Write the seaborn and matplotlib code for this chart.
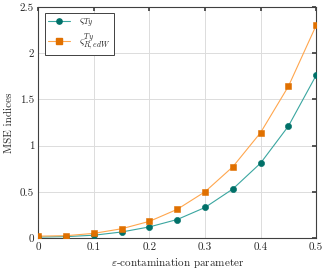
import matplotlib
matplotlib.use("Agg")
import matplotlib.pyplot as plt
import seaborn as sns
import pandas as pd

eps = [0.0, 0.05, 0.1, 0.15, 0.2, 0.25, 0.3, 0.35, 0.4, 0.45, 0.5]
mse_ty = [0.01, 0.015, 0.03, 0.065, 0.12, 0.2, 0.33, 0.53, 0.81, 1.21, 1.76]
mse_redw = [0.02, 0.025, 0.05, 0.1, 0.18, 0.31, 0.5, 0.77, 1.14, 1.64, 2.3]
labels = [r'$\varsigma_{Ty}$', r'$\varsigma^{Ty}_{R,edW}$']
xticks = [0, 0.1, 0.2, 0.3, 0.4, 0.5]
xticklabels = ["0", "0.1", "0.2", "0.3", "0.4", "0.5"]
yticks = [0, 0.5, 1, 1.5, 2, 2.5]
yticklabels = ["0", "0.5", "1", "1.5", "2", "2.5"]

sns.set_theme(style="whitegrid")
plt.rcParams['font.family'] = ['serif']
plt.rcParams['font.serif'] = ['cmr10', 'DejaVu Serif']
plt.rcParams['mathtext.fontset'] = 'cm'
plt.rcParams['axes.formatter.use_mathtext'] = True

df = pd.DataFrame({
    'eps': eps * 2,
    'mse': mse_ty + mse_redw,
    'series': [labels[0]] * len(eps) + [labels[1]] * len(eps),
})

fig = plt.figure(figsize=(3.27, 2.72), dpi=100)
ax = fig.add_axes([0.117, 0.125, 0.85, 0.85])

line_cols = {labels[0]: '#3aa6a0', labels[1]: '#ffa64d'}
mark_cols = {labels[0]: '#007068', labels[1]: '#e07000'}
marks = {labels[0]: 'o', labels[1]: 's'}

sns.lineplot(data=df, x='eps', y='mse', hue='series', palette=line_cols,
             ax=ax, linewidth=0.8, legend=False)
for lab in labels:
    sub = df[df.series == lab]
    sns.scatterplot(x=sub['eps'], y=sub['mse'], color=mark_cols[lab], marker=marks[lab],
                    s=20, edgecolor=mark_cols[lab], linewidth=0.4, ax=ax, zorder=3)

from matplotlib.lines import Line2D
handles = [Line2D([], [], color=line_cols[l], lw=0.8, marker=marks[l], markersize=3.8,
                  markerfacecolor=mark_cols[l], markeredgecolor=mark_cols[l]) for l in labels]
leg = ax.legend(handles, labels, loc='upper left', fontsize=8, frameon=True, fancybox=False,
                edgecolor='#404040', framealpha=1, borderpad=0.3, handlelength=2.0,
                labelspacing=0.1, borderaxespad=0.6)
leg.get_frame().set_linewidth(0.7)

ax.set_xlim(0, 0.5)
ax.set_ylim(0, 2.5)
ax.set_xticks(xticks)
ax.set_xticklabels(xticklabels)
ax.set_yticks(yticks)
ax.set_yticklabels(yticklabels)
ax.set_xlabel(r'$\varepsilon$-contamination parameter', fontsize=8, labelpad=3)
ax.set_ylabel('MSE indices', fontsize=8, labelpad=4)
ax.tick_params(labelsize=8, direction='in', length=3, color='#404040',
               top=True, right=True, pad=3)
ax.grid(True, color='#dcdcdc', linewidth=0.7)
for sp in ax.spines.values():
    sp.set_color('#404040')
    sp.set_linewidth(0.8)

fig.savefig('out.png', dpi=100)
